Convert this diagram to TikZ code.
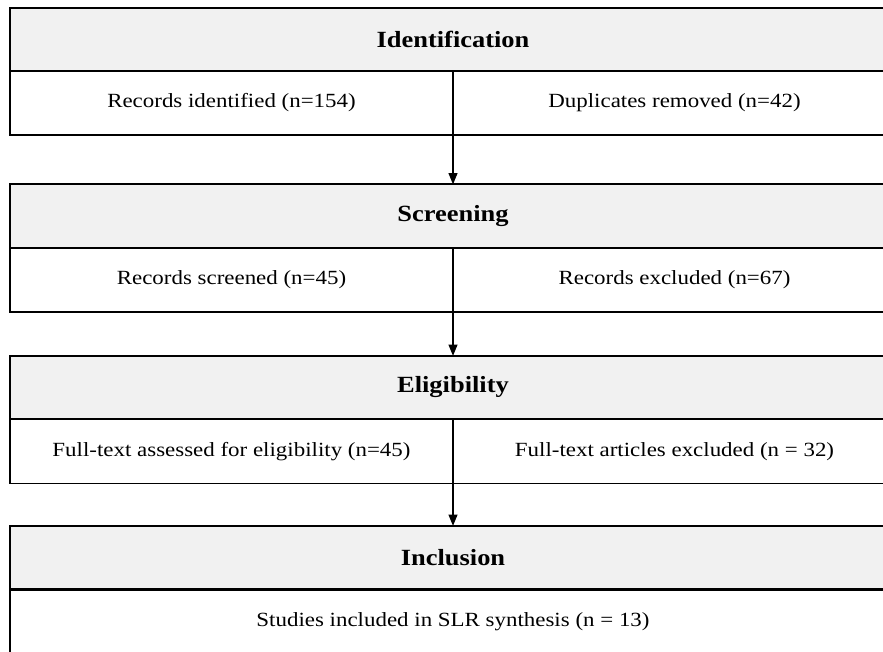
\documentclass[tikz,border=0pt]{standalone}
\usepackage{fontspec}
\setmainfont{Liberation Serif}[FakeStretch=1.14]
\usetikzlibrary{arrows.meta,positioning}
\definecolor{hdrgray}{HTML}{F1F1F1}

\begin{document}
\begin{tikzpicture}[
  x=0.025cm, y=-0.025cm,
  font=\fontsize{14.3}{17}\selectfont,
  hdr/.style={draw, line width=1.3pt, fill=hdrgray, minimum width=22.15cm,
              minimum height=1.58cm, inner sep=0pt, outer sep=0pt,
              font=\fontsize{16.5}{19}\selectfont\bfseries},
  cell/.style={draw, line width=1.3pt, fill=white, minimum width=11.075cm,
               minimum height=1.6cm, inner sep=0pt, outer sep=0pt},
  wide/.style={cell, minimum width=22.15cm},
  arr/.style={-{Triangle[length=2.8mm, width=2.2mm]}, line width=1pt},
]
\useasboundingbox (0,0) rectangle (883,652);
\clip (0,0) rectangle (883,652);

% ---------------- Identification ----------------
\node[hdr]  (ident)   at (453, 39.5)  {Identification};
\node[cell] (recid)   at (231.5, 103) {Records identified (n=154)};
\node[cell] (dupl)    at (674.5, 103) {Duplicates removed (n=42)};

% ---------------- Screening ----------------
\node[hdr]  (screen)  at (453, 216)   {Screening};
\node[cell] (recscr)  at (231.5, 280) {Records screened (n=45)};
\node[cell] (recexc)  at (674.5, 280) {Records excluded (n=67)};

% ---------------- Eligibility ----------------
\node[hdr]  (elig)    at (453, 387.5) {Eligibility};
\node[cell] (ftass)   at (231.5, 451.5) {Full-text assessed for eligibility (n=45)};
\node[cell] (ftexc)   at (674.5, 451.5) {Full-text articles excluded (n = 32)};

% ---------------- Inclusion ----------------
\node[hdr]  (incl)    at (453, 557.5) {Inclusion};
\node[wide] (studies) at (453, 622)   {Studies included in SLR synthesis (n = 13)};

% ---------------- Flow ----------------
\draw[arr] (ident.south)  -- (screen.north);
\draw[arr] (screen.south) -- (elig.north);
\draw[arr] (elig.south)   -- (incl.north);

\end{tikzpicture}
\end{document}
